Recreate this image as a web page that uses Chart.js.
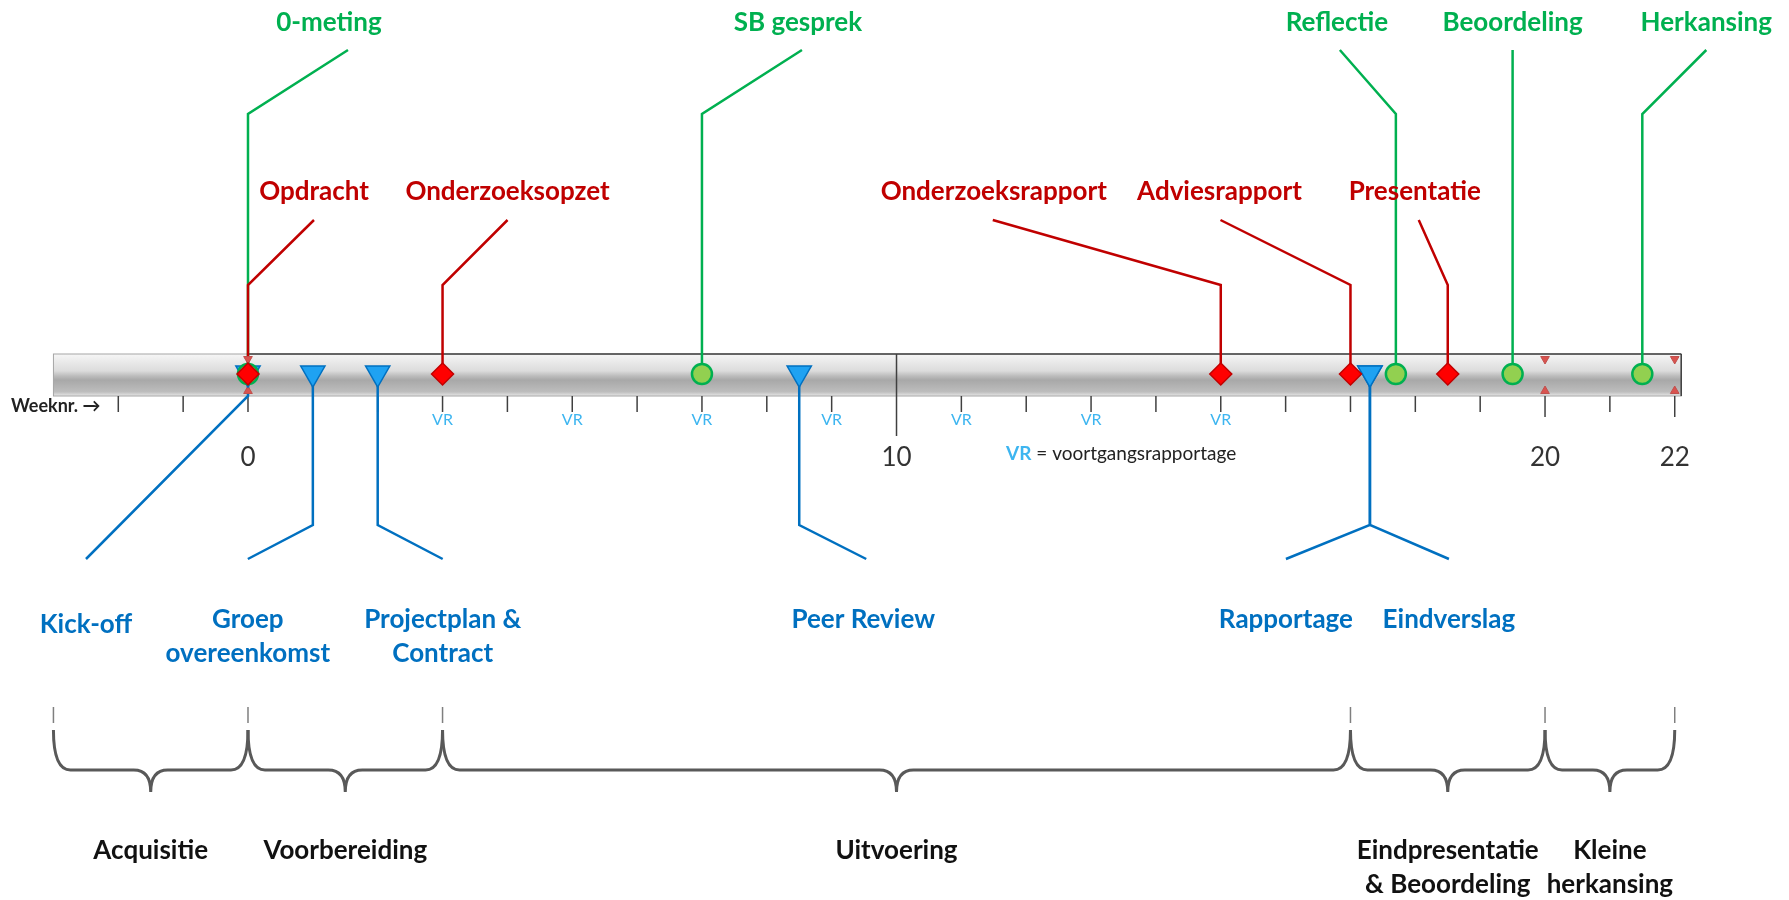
<!DOCTYPE html>
<html>
<head>
<meta charset="utf-8">
<script src="https://cdn.jsdelivr.net/npm/chart.js@4.4.0/dist/chart.umd.min.js"></script>
<style>
  html, body { margin: 0; padding: 0; background: #fff; }
</style>
</head>
<body>
<canvas id="timeline" width="1789" height="900"></canvas>
<script>
// ---- data (weeks) ----
const greenNames = ['0-meting', 'SB gesprek', 'Reflectie', 'Beoordeling', 'Herkansing'];
const greenWeeks = [0, 7, 17.7, 19.5, 21.5];

const redNames = ['Opdracht', 'Onderzoeksopzet', 'Onderzoeksrapport', 'Adviesrapport', 'Presentatie'];
const redWeeks = [0, 3, 15, 17, 18.5];

const blueNames = ['Kick-off', 'Groep\novereenkomst', 'Projectplan &\nContract', 'Peer Review', 'Rapportage', 'Eindverslag'];
const blueWeeks = [0, 1, 2, 8.5, 17.3, 17.3];

const milestoneWeeks = [0, 20, 22];

const phaseNames = ['Acquisitie', 'Voorbereiding', 'Uitvoering', 'Eindpresentatie\n& Beoordeling', 'Kleine\nherkansing'];
const phaseBounds = [-3, 0, 3, 17, 20, 22];

const tickWeeks = [-2, -1, 0, 1, 2, 3, 4, 5, 6, 7, 8, 9, 10, 11, 12, 13, 14, 15, 16, 17, 18, 19, 20, 21, 22];
const numberedWeeks = [0, 10, 20, 22];
const vrWeeks = [3, 5, 7, 9, 11, 13, 15];

// ---- layout (pixel offsets of labels / leader lines) ----
const greenLabelDx = [81, 96, -59, 0, 64];
const greenTipDx = [100, 100, -56, 0, 64];
const redLabelDx = [66, 65, -227, -131, -33];
const redTipDx = [66, 65, -228, -130, -29];
const blueLabelDx = [-162, -65, 65, 64, -84, 79];
const blueTipDx = [-162, -65, 65, 67, -84, 79];

const BAR_START = -3, BAR_END = 22.1;
const BAR_TOP = 354, BAR_BOT = 396, MARK_Y = 374;
const FONT = 'Lato, "Open Sans", sans-serif';

const GREEN = '#00B050', RED = '#C00000', BLUE = '#0070C0', LIGHTBLUE = '#3DB5F0';

function pline(ctx, pts, color, width) {
  ctx.beginPath();
  ctx.moveTo(pts[0][0], pts[0][1]);
  for (let i = 1; i < pts.length; i++) ctx.lineTo(pts[i][0], pts[i][1]);
  ctx.strokeStyle = color;
  ctx.lineWidth = width;
  ctx.lineJoin = 'miter';
  ctx.stroke();
}

function multiText(ctx, text, cx, cy, lh) {
  text.split('\n').forEach((t, i) => ctx.fillText(t, cx, cy + i * lh));
}

function brace(ctx, xl, xr, y0, y1, y2) {
  const r = 17, xm = (xl + xr) / 2;
  ctx.beginPath();
  ctx.moveTo(xl, y0);
  ctx.quadraticCurveTo(xl, y1, xl + r, y1);
  ctx.lineTo(xm - r, y1);
  ctx.quadraticCurveTo(xm, y1, xm, y2);
  ctx.quadraticCurveTo(xm, y1, xm + r, y1);
  ctx.lineTo(xr - r, y1);
  ctx.quadraticCurveTo(xr, y1, xr, y0);
  ctx.stroke();
}

const timelinePlugin = {
  id: 'timeline',
  beforeDatasetsDraw(chart) {
    const { ctx, scales: { x, y } } = chart;
    const px = w => x.getPixelForValue(w);
    const py = v => y.getPixelForValue(v);
    ctx.save();

    // grey bar
    const top = py(BAR_TOP), bot = py(BAR_BOT);
    const g = ctx.createLinearGradient(0, top, 0, bot);
    g.addColorStop(0, '#f6f6f6');
    g.addColorStop(0.4, '#dcdcdc');
    g.addColorStop(0.52, '#bdbdbd');
    g.addColorStop(0.62, '#a8a8a8');
    g.addColorStop(0.9, '#bdbdbd');
    g.addColorStop(1, '#e6e6e6');
    ctx.fillStyle = g;
    ctx.fillRect(px(BAR_START), top, px(BAR_END) - px(BAR_START), bot - top);
    ctx.strokeStyle = '#a6a6a6';
    ctx.lineWidth = 1;
    ctx.strokeRect(px(BAR_START), top, px(BAR_END) - px(BAR_START), bot - top);
    pline(ctx, [[px(0), top], [px(BAR_END), top]], '#404040', 1.5);
    pline(ctx, [[px(BAR_END), top], [px(BAR_END), bot]], '#404040', 1.5);

    // week ticks
    tickWeeks.forEach(w => {
      let len = 16;
      if (w === 20 || w === 22) len = 21;
      if (w === 10) {
        pline(ctx, [[px(w), top], [px(w), bot + 40]], '#404040', 1.5);
      } else {
        pline(ctx, [[px(w), bot], [px(w), bot + len]], '#404040', 1.5);
      }
    });

    // leader lines
    greenWeeks.forEach((w, i) => {
      pline(ctx, [[px(w), py(MARK_Y)], [px(w), py(114)], [px(w) + greenTipDx[i], py(50)]], GREEN, 2.5);
    });
    redWeeks.forEach((w, i) => {
      pline(ctx, [[px(w), py(MARK_Y)], [px(w), py(285)], [px(w) + redTipDx[i], py(220)]], RED, 2.5);
    });
    blueWeeks.forEach((w, i) => {
      const bend = i === 0 ? BAR_BOT : 525;
      pline(ctx, [[px(w), py(MARK_Y)], [px(w), py(bend)], [px(w) + blueTipDx[i], py(559)]], BLUE, 2.5);
    });

    // phase braces
    ctx.strokeStyle = '#595959';
    ctx.lineWidth = 3;
    for (let i = 0; i < phaseNames.length; i++) {
      brace(ctx, px(phaseBounds[i]), px(phaseBounds[i + 1]), py(730), py(770), py(792));
    }
    ctx.setLineDash([16, 4]);
    ctx.lineWidth = 1.5;
    ctx.strokeStyle = '#7f7f7f';
    phaseBounds.forEach(w => {
      ctx.beginPath();
      ctx.moveTo(px(w), py(707));
      ctx.lineTo(px(w), py(727));
      ctx.stroke();
    });
    ctx.restore();
  },
  afterDraw(chart) {
    const { ctx, scales: { x, y } } = chart;
    const px = w => x.getPixelForValue(w);
    const py = v => y.getPixelForValue(v);
    ctx.save();
    ctx.textAlign = 'center';
    ctx.textBaseline = 'middle';

    ctx.font = 'bold 26px ' + FONT;
    ctx.fillStyle = GREEN;
    greenNames.forEach((n, i) => multiText(ctx, n, px(greenWeeks[i]) + greenLabelDx[i], py(23), 34));
    ctx.fillStyle = RED;
    redNames.forEach((n, i) => multiText(ctx, n, px(redWeeks[i]) + redLabelDx[i], py(192), 34));
    ctx.fillStyle = BLUE;
    blueNames.forEach((n, i) => multiText(ctx, n, px(blueWeeks[i]) + blueLabelDx[i], py(i === 0 ? 625 : 620), 34));

    ctx.fillStyle = '#111';
    for (let i = 0; i < phaseNames.length; i++) {
      const mid = (phaseBounds[i] + phaseBounds[i + 1]) / 2;
      multiText(ctx, phaseNames[i], px(mid), py(851), 34);
    }

    // week numbers
    ctx.font = '26px ' + FONT;
    ctx.fillStyle = '#333';
    numberedWeeks.forEach(w => ctx.fillText(String(w), px(w), py(458)));

    // VR markers
    ctx.font = '16px ' + FONT;
    ctx.fillStyle = LIGHTBLUE;
    vrWeeks.forEach(w => ctx.fillText('VR', px(w), py(420)));

    // captions
    ctx.textAlign = 'left';
    ctx.font = 'bold 18px ' + FONT;
    ctx.fillStyle = '#222';
    ctx.fillText('Weeknr. \u2192', 11, py(406));

    ctx.font = 'bold 19px ' + FONT;
    ctx.fillStyle = LIGHTBLUE;
    ctx.fillText('VR', 1006, py(454));
    const w0 = ctx.measureText('VR').width;
    ctx.font = '19px ' + FONT;
    ctx.fillStyle = '#222';
    ctx.fillText(' = voortgangsrapportage', 1006 + w0, py(454));
    ctx.restore();
  }
};

const pts = (weeks, lane) => weeks.map(w => ({ x: w, y: lane }));

new Chart(document.getElementById('timeline'), {
  type: 'scatter',
  data: {
    datasets: [
      {
        label: 'Inleveren',
        data: pts(redWeeks, MARK_Y),
        pointStyle: 'rectRot',
        pointRadius: 11,
        backgroundColor: '#FF0000',
        borderColor: '#C00000',
        borderWidth: 1.5
      },
      {
        label: 'Gesprekken',
        data: pts(greenWeeks, MARK_Y),
        pointStyle: 'circle',
        pointRadius: 10,
        backgroundColor: '#92D050',
        borderColor: '#00B050',
        borderWidth: 2.5
      },
      {
        label: 'Groepsmomenten',
        data: pts(blueWeeks, MARK_Y - 1),
        pointStyle: 'triangle',
        rotation: 180,
        pointRadius: 14,
        backgroundColor: '#1FA2F2',
        borderColor: '#0070C0',
        borderWidth: 1.5
      },
      {
        label: 'Mijlpaal boven',
        data: pts(milestoneWeeks, BAR_TOP + 5),
        pointStyle: 'triangle',
        rotation: 180,
        pointRadius: 5,
        backgroundColor: '#D9534F',
        borderColor: '#C0504D',
        borderWidth: 1
      },
      {
        label: 'Mijlpaal onder',
        data: pts(milestoneWeeks, BAR_BOT - 5),
        pointStyle: 'triangle',
        rotation: 0,
        pointRadius: 5,
        backgroundColor: '#D9534F',
        borderColor: '#C0504D',
        borderWidth: 1
      }
    ]
  },
  options: {
    responsive: false,
    animation: false,
    layout: { padding: 0, autoPadding: false },
    plugins: {
      legend: { display: false },
      tooltip: { enabled: false }
    },
    scales: {
      x: { type: 'linear', min: -3.824, max: 23.762, display: false },
      y: { type: 'linear', min: 0, max: 900, reverse: true, display: false }
    }
  },
  plugins: [timelinePlugin]
});
</script>
</body>
</html>
